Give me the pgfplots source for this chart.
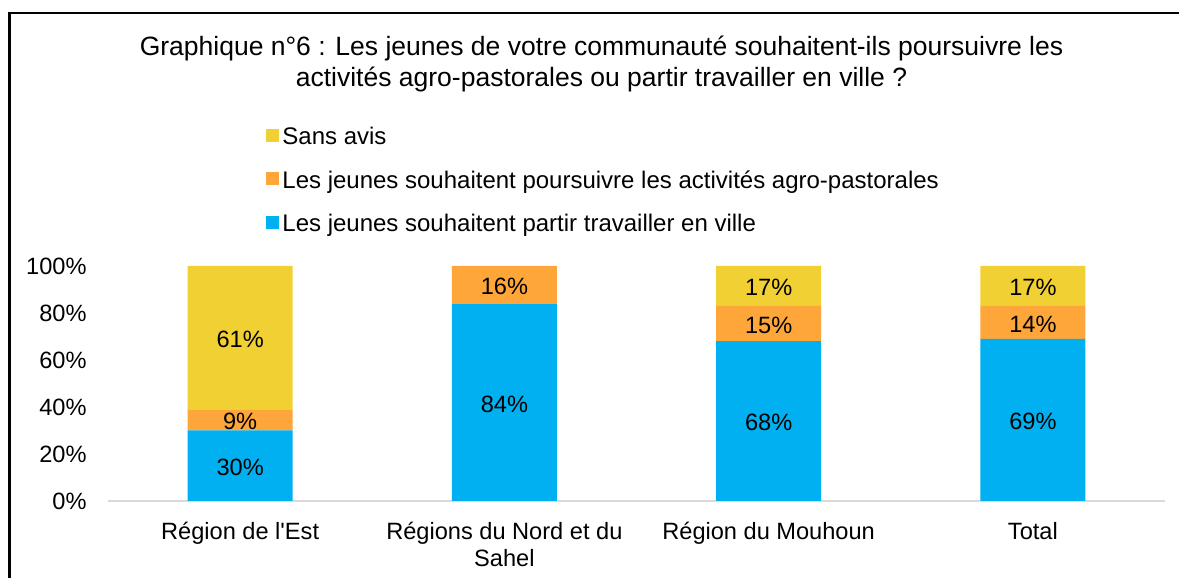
\documentclass[border=0pt]{standalone}
\usepackage{fontspec}
\setmainfont{Liberation Sans}
\usepackage{pgfplots}
\usepackage{pgfplotstable}
\pgfplotsset{compat=1.18}
\definecolor{cblue}{HTML}{00B0F0}
\definecolor{corange}{HTML}{FFA63B}
\definecolor{cyellow}{HTML}{F0D033}
\definecolor{caxis}{HTML}{D9D9D9}
\newcommand\f{\fontsize{11.8}{13.5}\selectfont}
\newcommand\fl{\fontsize{12}{13.5}\selectfont}
\newcommand\ft{\fontsize{13.25}{15.5}\selectfont}

\pgfplotstableread{
x blue orange yellow
0 30 9 61
1 84 16 0
2 68 15 17
3 69 14 17
}\data

% label positions (segment midpoints) and values
\pgfplotstableread{
x y lab
0 15 30
0 34.5 9
0 69.5 61
1 42 84
1 92 16
2 34 68
2 75.5 15
2 91.5 17
3 34.5 69
3 76 14
3 91.5 17
}\labels

\begin{document}
\begin{tikzpicture}
\useasboundingbox (0,0) rectangle (589.5pt,289pt);
\fill[white] (0,0) rectangle (589.5pt,289pt);
\draw[line width=1.15pt] (4.75pt,-1pt) -- (4.75pt,282.6pt) -- (590pt,282.6pt);
\node[font=\ft, anchor=base] at (300.75pt,261pt) {Graphique n°6 : Les jeunes de votre communauté souhaitent-ils poursuivre les};
\node[font=\ft, anchor=base] at (300.75pt,245.5pt) {activités agro-pastorales ou partir travailler en ville ?};
\begin{axis}[
  at={(54pt,38.5pt)}, anchor=south west,
  scale only axis, width=528.5pt, height=117.5pt,
  ybar stacked, bar width=52.5pt,
  xmin=-0.5, xmax=3.5, ymin=0, ymax=100,
  xtick={0,1,2,3},
  xticklabels={{Région de l\textquotesingle Est},{Régions du Nord et du\\Sahel},{Région du Mouhoun},{Total}},
  ytick={0,20,...,100},
  yticklabel={\pgfmathprintnumber{\tick}\%},
  /pgf/number format/assume math mode=true,
  axis x line*=bottom, axis y line*=left,
  x axis line style={draw=caxis, line width=1pt, -},
  y axis line style={draw=none},
  tick style={draw=none},
  yticklabel style={font=\f, anchor=east, inner sep=0pt, xshift=-10.5pt},
  xticklabel style={font=\f, anchor=north, inner sep=0pt, align=center, yshift=-10.3pt},
  reverse legend,
  legend style={at={(0.1495,1.6085)}, anchor=north west, draw=none, fill=none, inner sep=0pt,
    font=\fl, row sep=7.5pt, cells={anchor=west},
    /tikz/every odd column/.append style={column sep=-0.5pt}},
  legend image code/.code={\fill[#1] (0pt,-2pt) rectangle (6.5pt,4.5pt);},
  clip=false,
]
\addplot[fill=cblue, draw=none] table[x=x, y=blue] {\data};
\addlegendentry{Les jeunes souhaitent partir travailler en ville}
\addplot[fill=corange, draw=none] table[x=x, y=orange] {\data};
\addlegendentry{Les jeunes souhaitent poursuivre les activités agro-pastorales}
\addplot[fill=cyellow, draw=none] table[x=x, y=yellow] {\data};
\addlegendentry{Sans avis}
\end{axis}
\begin{axis}[
  at={(54pt,38.5pt)}, anchor=south west,
  scale only axis, width=528.5pt, height=117.5pt,
  xmin=-0.5, xmax=3.5, ymin=0, ymax=100,
  hide axis, clip=false,
]
\addplot[only marks, mark=none, nodes near coords={\pgfplotspointmeta\%},
  point meta=explicit symbolic,
  every node near coord/.append style={anchor=center, font=\f, text=black, inner sep=0pt, yshift=-0.8pt}]
  table[x=x, y=y, meta=lab] {\labels};
\end{axis}
\end{tikzpicture}
\end{document}
